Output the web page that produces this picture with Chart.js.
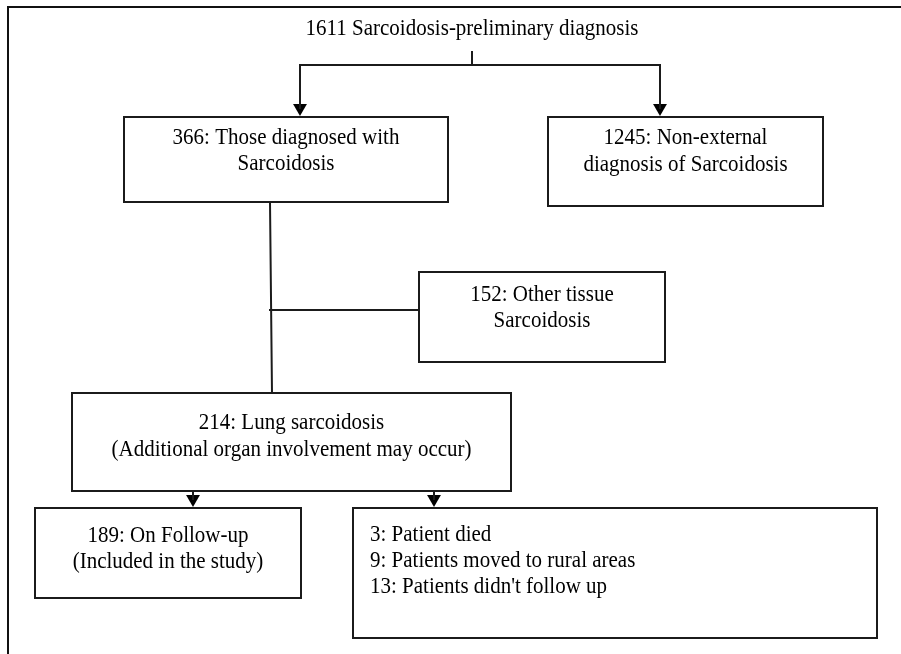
<!DOCTYPE html>
<html>
<head>
<meta charset="utf-8">
<script src="https://cdn.jsdelivr.net/npm/chart.js@4/dist/chart.umd.min.js"></script>
<style>
  html, body { margin: 0; padding: 0; background: #ffffff; }
  #wrap { width: 901px; height: 654px; }
</style>
</head>
<body>
<div id="wrap"><canvas id="c" width="901" height="654"></canvas></div>
<script>
// ---- Data (counts and labels of the flow) ----
const titleCount = 1611;
const titleLabel = 'Sarcoidosis-preliminary diagnosis';
const splitCounts = [366, 1245];
const splitLabels = [['Those diagnosed with', 'Sarcoidosis'], ['Non-external', 'diagnosis of Sarcoidosis']];
const tissueCount = 152;
const tissueLabel = ['Other tissue', 'Sarcoidosis'];
const lungCount = 214;
const lungLabel = ['Lung sarcoidosis', '(Additional organ involvement may occur)'];
const followCount = 189;
const followLabel = ['On Follow-up', '(Included in the study)'];
const lossCounts = [3, 9, 13];
const lossLabels = ['Patient died', 'Patients moved to rural areas', "Patients didn't follow up"];

// ---- Layout (positions in the diagram's coordinate space) ----
const boxes = {
  dx:     { l: 124, t: 117, r: 448, b: 202, lines: [138, 164] },
  nonext: { l: 548, t: 117, r: 823, b: 206, lines: [138, 165] },
  tissue: { l: 419, t: 272, r: 665, b: 362, lines: [295, 321] },
  lung:   { l: 72,  t: 393, r: 511, b: 491, lines: [423, 450] },
  follow: { l: 35,  t: 508, r: 301, b: 598, lines: [536, 562] },
  loss:   { l: 353, t: 508, r: 877, b: 638, lines: [535, 561, 587], textX: 370 }
};
const title = { x: 472, y: 29 };
const connectors = [
  [[472, 52], [472, 65]],
  [[300, 65], [660, 65]],
  [[300, 65], [300, 108]],
  [[660, 65], [660, 108]],
  [[270, 202], [272, 393]],
  [[270, 310], [419, 310]],
  [[193, 491], [193, 499]],
  [[434, 491], [434, 499]]
];
const frameLines = [
  [[8, 7], [901, 7]],
  [[8, 7], [8, 654]]
];
const arrowTips = [[300, 108], [660, 108], [193, 499], [434, 499]];

// ---- Build datasets ----
const INK = '#1b1b1b';
const datasets = [];
function poly(points, color, width) {
  datasets.push({
    type: 'scatter', showLine: true, tension: 0, fill: false,
    data: points.map(p => ({ x: p[0], y: p[1] })),
    borderColor: color, borderWidth: width,
    pointRadius: 0, pointHoverRadius: 0
  });
}
frameLines.forEach(l => poly(l, '#111111', 2));
Object.values(boxes).forEach(b => poly([[b.l, b.t], [b.r, b.t], [b.r, b.b], [b.l, b.b], [b.l, b.t]], INK, 2));
connectors.forEach(l => poly(l, INK, 2));
datasets.push({
  type: 'scatter',
  data: arrowTips.map(p => ({ x: p[0], y: p[1] })),
  pointStyle: 'triangle', rotation: 180, pointRadius: 8, pointHoverRadius: 8,
  backgroundColor: '#000000', borderColor: '#000000', borderWidth: 0
});

// ---- Text plugin (positions converted through the chart's scales) ----
const TEXT_STRETCH_Y = 1.1;
const textPlugin = {
  id: 'flowText',
  afterDatasetsDraw(chart) {
    const { ctx } = chart;
    const xs = chart.scales.x, ys = chart.scales.y;
    const X = v => xs.getPixelForValue(v), Y = v => ys.getPixelForValue(v);
    const put = (s, x, y) => {
      ctx.save();
      ctx.translate(X(x), Y(y));
      ctx.scale(1, TEXT_STRETCH_Y);
      ctx.fillText(s, 0, 0);
      ctx.restore();
    };
    ctx.save();
    ctx.fillStyle = '#000000';
    ctx.font = '21px "Liberation Serif", "Times New Roman", serif';
    ctx.textBaseline = 'middle';
    ctx.textAlign = 'center';
    put(titleCount + ' ' + titleLabel, title.x, title.y);
    const center = (b, lines) => {
      const cx = (b.l + b.r) / 2;
      lines.forEach((s, i) => put(s, cx, b.lines[i]));
    };
    center(boxes.dx, [splitCounts[0] + ': ' + splitLabels[0][0], splitLabels[0][1]]);
    center(boxes.nonext, [splitCounts[1] + ': ' + splitLabels[1][0], splitLabels[1][1]]);
    center(boxes.tissue, [tissueCount + ': ' + tissueLabel[0], tissueLabel[1]]);
    center(boxes.lung, [lungCount + ': ' + lungLabel[0], lungLabel[1]]);
    center(boxes.follow, [followCount + ': ' + followLabel[0], followLabel[1]]);
    ctx.textAlign = 'left';
    lossCounts.forEach((n, i) => put(n + ': ' + lossLabels[i], boxes.loss.textX, boxes.loss.lines[i]));
    ctx.restore();
  }
};

new Chart(document.getElementById('c'), {
  type: 'scatter',
  data: { datasets },
  options: {
    responsive: false,
    animation: false,
    events: [],
    layout: { padding: 0, autoPadding: false },
    plugins: { legend: { display: false }, tooltip: { enabled: false }, title: { display: false } },
    scales: {
      x: { type: 'linear', min: 0, max: 901, display: false },
      y: { type: 'linear', min: 0, max: 654, reverse: true, display: false }
    },
    elements: { line: { borderCapStyle: 'square' } },
    clip: false
  },
  plugins: [textPlugin]
});
</script>
</body>
</html>
